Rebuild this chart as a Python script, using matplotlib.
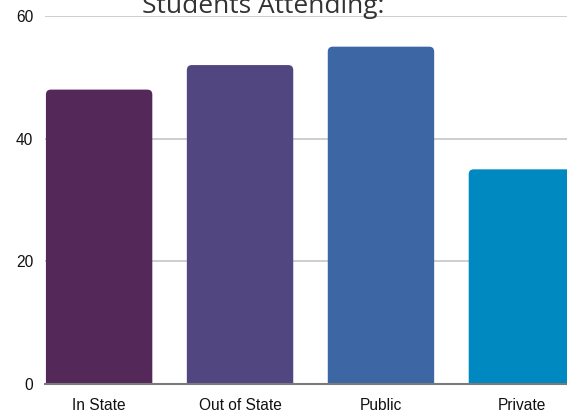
import matplotlib.pyplot as plt
from matplotlib.patches import FancyBboxPatch

categories = ["In State", "Out of State", "Public", "Private"]
students = [48, 52, 55, 35]
colors = ["#54295a", "#51467f", "#3c66a4", "#0088c1"]

W, H = 567, 412
fig = plt.figure(figsize=(W / 100, H / 100), dpi=100)
ax = fig.add_axes([45 / W, 28 / H, (W - 45) / W, 368 / H])

x = list(range(len(categories)))
bars = ax.bar(x, students, width=0.755, color=colors, zorder=3)

ax.set_xlim(-0.384, 3.32)
ax.set_ylim(0, 60)

# swap square bars for ones with rounded tops
xpp = (3.32 + 0.384) / (W - 45)
ypp = 60 / 368
r = 5 * xpp
for b in bars:
    bx, bw, bh = b.get_x(), b.get_width(), b.get_height()
    p = FancyBboxPatch((bx, -1.5), bw, bh + 1.5,
                       boxstyle="round,pad=0,rounding_size=%f" % r,
                       mutation_aspect=ypp / xpp,
                       fc=b.get_facecolor(), ec="none", zorder=3)
    ax.add_patch(p)
    b.remove()

ax.set_yticks([0, 20, 40, 60])
ax.grid(axis="y", color="#c6c6c6", lw=1.2, zorder=0)
ax.set_xticks(x)
ax.set_xticklabels(categories)
ax.tick_params(length=0, labelsize=11.2, colors="#111111", labelfontfamily="Liberation Sans")
ax.tick_params(axis="y", pad=8.5)
ax.tick_params(axis="x", pad=10)
for s in ["top", "right", "left"]:
    ax.spines[s].set_visible(False)
ax.spines["bottom"].set_color("#7a7a7a")
ax.spines["bottom"].set_linewidth(1.5)
ax.spines["bottom"].set_zorder(4)

fig.text(263 / W, 1 - 13 / H, "Students Attending:", ha="center", va="baseline",
         fontsize=19, color="#333333", family="Open Sans")

fig.savefig("out.png", dpi=100)
